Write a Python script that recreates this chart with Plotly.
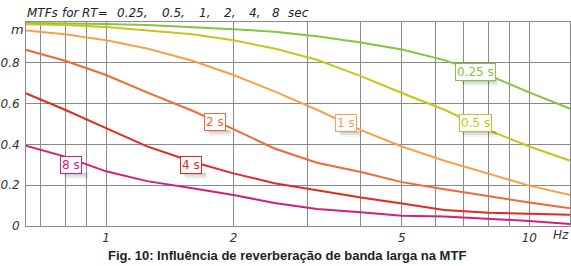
import math
import plotly.graph_objects as go

# ---- data ----
freqs = [0.63, 0.8, 1, 1.25, 1.6, 2, 2.5, 3.15, 4, 5, 6.3, 8, 10, 12.5]
rt_labels = ["0.25 s", "0.5 s", "1 s", "2 s", "4 s", "8 s"]
mtf_025 = [0.995, 0.993, 0.99, 0.985, 0.975, 0.965, 0.952, 0.93, 0.90, 0.865, 0.813, 0.74, 0.655, 0.575]
mtf_05 = [0.99, 0.985, 0.975, 0.96, 0.94, 0.91, 0.87, 0.815, 0.735, 0.652, 0.57, 0.47, 0.39, 0.32]
mtf_1 = [0.96, 0.94, 0.91, 0.87, 0.81, 0.74, 0.66, 0.57, 0.47, 0.39, 0.32, 0.258, 0.198, 0.152]
mtf_2 = [0.87, 0.81, 0.74, 0.655, 0.565, 0.475, 0.38, 0.31, 0.265, 0.215, 0.18, 0.145, 0.115, 0.087]
mtf_4 = [0.66, 0.57, 0.48, 0.39, 0.315, 0.258, 0.21, 0.175, 0.14, 0.11, 0.078, 0.065, 0.059, 0.055]
mtf_8 = [0.40, 0.34, 0.268, 0.22, 0.185, 0.152, 0.113, 0.083, 0.067, 0.05, 0.046, 0.035, 0.025, 0.01]
series = [mtf_025, mtf_05, mtf_1, mtf_2, mtf_4, mtf_8]
colors = ["#84c440", "#c9c31c", "#f6a04e", "#ef6836", "#e4281f", "#d0207c"]

# label anchor positions (frequency, m)
label_freq = [7.45, 7.45, 3.68, 1.81, 1.585, 0.828]
label_m = [0.755, 0.505, 0.505, 0.51, 0.30, 0.30]

x_ticks = [0.7, 0.8, 0.9, 1, 2, 3, 4, 5, 6, 7, 8, 9, 10]
x_ticktext = ["", "", "", "1", "2", "", "", "5", "", "", "", "", "10"]
y_ticks = [0, 0.2, 0.4, 0.6, 0.8]
y_ticktext = ["0", "0.2", "0.4", "0.6", "0.8"]

title_words = ["MTFs", "for", "RT=", "0.25,", "0.5,", "1,", "2,", "4,", "8", "sec"]
title_px = [25, 60, 80, 115, 160, 197, 222, 247, 270, 286]
caption = "Fig. 10: Influência de reverberação de banda larga na MTF"

W, H = 571, 266
L, R, T, B = 26, 1, 22, 40
pw = W - L - R
ph = H - T - B
XMIN, XMAX = math.log10(0.647), math.log10(12.48)

fig = go.Figure()
for vals, col, name in zip(series, colors, rt_labels):
    fig.add_trace(go.Scatter(x=freqs, y=vals, mode="lines", name=name,
                             line=dict(color=col, width=2), hoverinfo="skip"))

# soft shadows under the labels
box_w = [40, 39, 25, 27, 27, 28]
for f, m, bw in zip(label_freq, label_m, box_w):
    cx = L + (math.log10(f) - XMIN) / (XMAX - XMIN) * pw
    cy = T + (1 - m) * ph
    for k, a in enumerate([0.10, 0.08, 0.05]):
        fig.add_shape(type="rect", xref="paper", yref="paper",
                      x0=(cx - bw / 2 + 6 + k - L) / pw, x1=(cx + bw / 2 + 1 + k - L) / pw,
                      y0=1 - (cy + 8 + 2 + 2 * k - T) / ph, y1=1 - (cy + 8 - T) / ph,
                      line=dict(width=0), fillcolor="rgba(0,0,0,%.2f)" % a, layer="above")

for lab, f, m, col in zip(rt_labels, label_freq, label_m, colors):
    fig.add_annotation(x=math.log10(f), y=m, xref="x", yref="y", text=lab,
                       showarrow=False, font=dict(family="DejaVu Sans", size=12, color=col),
                       bgcolor="white", bordercolor=col, borderwidth=1, borderpad=1)

for w, px in zip(title_words, title_px):
    fig.add_annotation(x=(px - L) / pw, y=1, xref="paper", yref="paper", xanchor="left",
                       yanchor="middle", yshift=9, text="<i>" + w + "</i>", showarrow=False,
                       font=dict(family="DejaVu Sans", size=12, color="#222"))

fig.add_annotation(x=(17 - L) / pw, y=(226 - 30) / ph, xref="paper", yref="paper", xanchor="center",
                   yanchor="middle", text="<i>m</i>", showarrow=False,
                   font=dict(family="DejaVu Sans", size=13, color="#333"))
fig.add_annotation(x=(561 - L) / pw, y=0, xref="paper", yref="paper", xanchor="center",
                   yanchor="middle", yshift=-9, text="<i>Hz</i>", showarrow=False,
                   font=dict(family="DejaVu Sans", size=12, color="#333"))
fig.add_annotation(x=(287 - L) / pw, y=0, xref="paper", yref="paper", xanchor="center",
                   yanchor="middle", yshift=-29, text="<b>" + caption + "</b>", showarrow=False,
                   font=dict(family="Liberation Sans", size=13, color="#222"))

fig.update_layout(
    width=W, height=H, autosize=False,
    margin=dict(l=L, r=R, t=T, b=B, pad=0),
    paper_bgcolor="white", plot_bgcolor="white",
    showlegend=False,
    xaxis=dict(type="log", range=[XMIN, XMAX],
               tickvals=x_ticks, ticktext=["<i>" + t + "</i>" if t else "" for t in x_ticktext],
               showgrid=True, gridcolor="#8a8a8a",
               gridwidth=1, zeroline=False, showline=True, linecolor="#8a8a8a", linewidth=1,
               mirror=True, ticks="", ticklabelstandoff=1,
               tickfont=dict(family="DejaVu Sans", size=12, color="#333"), fixedrange=True),
    yaxis=dict(range=[0, 1], tickvals=y_ticks, ticktext=["<i>" + t + "</i>" for t in y_ticktext],
               showgrid=True,
               gridcolor="#8a8a8a", gridwidth=1, zeroline=False, showline=True,
               linecolor="#8a8a8a", linewidth=1, mirror=True, ticks="", ticklabelstandoff=3,
               tickfont=dict(family="DejaVu Sans", size=12, color="#333"), fixedrange=True),
    font=dict(family="DejaVu Sans"),
)

fig.write_html("out.html", include_plotlyjs=True, config={"displayModeBar": False},
               post_script="document.body.style.margin='0';")
